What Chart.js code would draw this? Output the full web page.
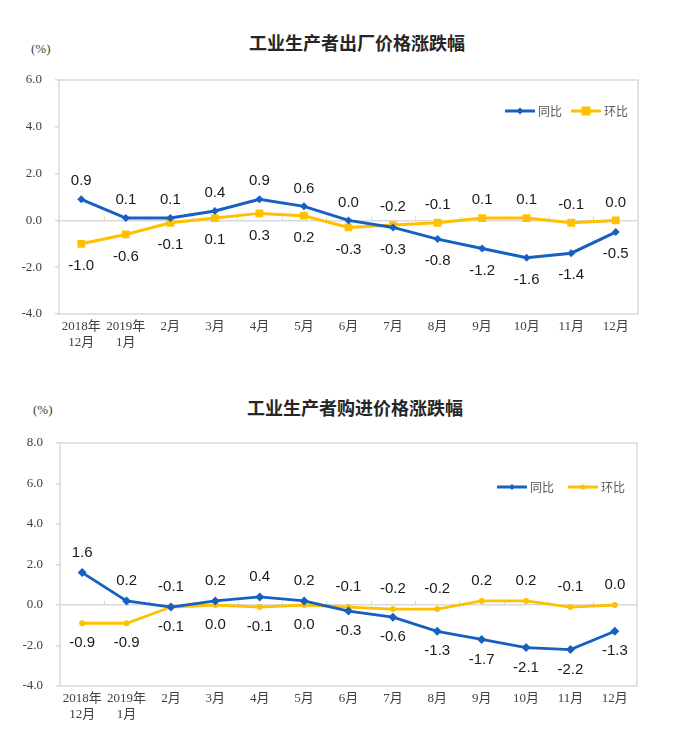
<!DOCTYPE html>
<html>
<head>
<meta charset="utf-8">
<script src="https://cdn.jsdelivr.net/npm/chart.js@4.4.1/dist/chart.umd.min.js"></script>
<style>
  html, body { margin: 0; padding: 0; background: #ffffff; }
  body { width: 692px; height: 743px; position: relative; overflow: hidden; }
  .title { position: absolute; font-family: "Noto Sans CJK SC", sans-serif; font-weight: bold; font-size: 18px; color: #262626; white-space: nowrap; transform: translate(-50%, -50%); }
  .unit { position: absolute; font-family: "Liberation Serif", "DejaVu Serif", serif; font-size: 13px; color: #404040; transform: translateY(-50%); }
  canvas { position: absolute; left: 0; }
</style>
</head>
<body>
<div class="title" style="left:357px; top:42px;">工业生产者出厂价格涨跌幅</div>
<div class="unit" style="left:31px; top:49px;">(%)</div>
<div class="title" style="left:355px; top:407px;">工业生产者购进价格涨跌幅</div>
<div class="unit" style="left:33px; top:410px;">(%)</div>
<canvas id="c1" width="692" height="365" style="top:0px;"></canvas>
<canvas id="c2" width="692" height="378" style="top:365px;"></canvas>
<script>
// ---------- DATA ----------
const categories = [["2018年", "12月"], ["2019年", "1月"], "2月", "3月", "4月", "5月", "6月", "7月", "8月", "9月", "10月", "11月", "12月"];
const seriesNames = ["同比", "环比"];

// 工业生产者出厂价格涨跌幅
const ppiYoY = [0.9, 0.1, 0.1, 0.4, 0.9, 0.6, 0.0, -0.3, -0.8, -1.2, -1.6, -1.4, -0.5];
const ppiMoM = [-1.0, -0.6, -0.1, 0.1, 0.3, 0.2, -0.3, -0.2, -0.1, 0.1, 0.1, -0.1, 0.0];
const ppiTicks = [-4, -2, 0, 2, 4, 6];

// 工业生产者购进价格涨跌幅
const ppirmYoY = [1.6, 0.2, -0.1, 0.2, 0.4, 0.2, -0.3, -0.6, -1.3, -1.7, -2.1, -2.2, -1.3];
const ppirmMoM = [-0.9, -0.9, -0.1, 0.0, -0.1, 0.0, -0.1, -0.2, -0.2, 0.2, 0.2, -0.1, 0.0];
const ppirmTicks = [-4, -2, 0, 2, 4, 6, 8];

// ---------- STYLE ----------
const BLUE = "#1560C0";
const YELLOW = "#FFC000";
const GRID = "#d9d9d9";
const tickFont = { family: "'Liberation Serif', 'Noto Sans CJK SC', serif", size: 13 };

const frameAndLabels = {
  id: "frameAndLabels",
  beforeDatasetsDraw(chart) {
    const { ctx, chartArea: a, scales } = chart;
    ctx.save();
    ctx.strokeStyle = GRID;
    ctx.lineWidth = 1.5;
    ctx.strokeRect(a.left, a.top, a.right - a.left, a.bottom - a.top);
    const y0 = scales.y.getPixelForValue(0);
    const n = chart.data.labels.length;
    const w = (a.right - a.left) / n;
    ctx.lineWidth = 1;
    for (let k = 1; k < n; k++) {
      const x = Math.round(a.left + k * w) + 0.5;
      ctx.beginPath();
      ctx.moveTo(x, y0 - 4);
      ctx.lineTo(x, y0);
      ctx.stroke();
    }
    ctx.restore();
  },
  afterDatasetsDraw(chart, args, opts) {
    const { ctx, chartArea: a } = chart;
    const d0 = chart.data.datasets[0].data;
    const d1 = chart.data.datasets[1].data;
    const m0 = chart.getDatasetMeta(0).data;
    const m1 = chart.getDatasetMeta(1).data;
    ctx.save();
    ctx.font = "15px 'Liberation Sans', Arial, sans-serif";
    ctx.fillStyle = "#1a1a1a";
    ctx.textAlign = "center";
    ctx.textBaseline = "middle";
    for (let i = 0; i < d0.length; i++) {
      const firstUp = d0[i] >= d1[i];
      const pts = [[m0[i], d0[i], firstUp], [m1[i], d1[i], !firstUp]];
      for (const [p, v, up] of pts) {
        const y = up ? p.y - opts.above : p.y + opts.below;
        ctx.fillText(v.toFixed(1), p.x, y);
      }
    }
    const ly = a.top + opts.legendDy;
    const items = opts.legend;
    chart.data.datasets.forEach((ds, j) => {
      const it = items[j];
      const x1 = a.right - it.from, x2 = a.right - it.to;
      ctx.strokeStyle = ds.borderColor;
      ctx.lineWidth = 3;
      ctx.beginPath();
      ctx.moveTo(x1, ly);
      ctx.lineTo(x2, ly);
      ctx.stroke();
      ctx.fillStyle = ds.borderColor;
      const cx = (x1 + x2) / 2;
      const r = it.marker;
      ctx.beginPath();
      if (ds.pointStyle === "rect") {
        ctx.rect(cx - r, ly - r, 2 * r, 2 * r);
      } else if (ds.pointStyle === "rectRot") {
        ctx.moveTo(cx, ly - r); ctx.lineTo(cx + r, ly); ctx.lineTo(cx, ly + r); ctx.lineTo(cx - r, ly);
        ctx.closePath();
      } else {
        ctx.arc(cx, ly, r, 0, Math.PI * 2);
      }
      ctx.fill();
      ctx.fillStyle = "#595959";
      ctx.font = "12px 'Noto Sans CJK SC', sans-serif";
      ctx.textAlign = "left";
      ctx.fillText(ds.label, x2 + 3, ly);
    });
    ctx.restore();
  }
};

function makeChart(id, yoy, mom, ticks, layout, style) {
  return new Chart(document.getElementById(id), {
    type: "line",
    data: {
      labels: categories,
      datasets: [
        { label: seriesNames[0], data: yoy, borderColor: BLUE, backgroundColor: BLUE, borderWidth: style.lw,
          pointStyle: "rectRot", pointRadius: style.r0, pointBorderWidth: 0, tension: 0 },
        { label: seriesNames[1], data: mom, borderColor: YELLOW, backgroundColor: YELLOW, borderWidth: style.lw,
          pointStyle: style.p1, pointRadius: style.r1, pointBorderWidth: 0, tension: 0 }
      ]
    },
    options: {
      responsive: false,
      animation: false,
      events: [],
      layout: { padding: { top: layout.top, right: layout.right, left: 0, bottom: 0 } },
      plugins: {
        legend: { display: false },
        tooltip: { enabled: false },
        title: { display: false },
        frameAndLabels: { above: style.above, below: style.below, legendDy: layout.legendDy, legend: layout.legend }
      },
      scales: {
        x: {
          offset: true,
          grid: { display: false, drawTicks: false },
          border: { display: false },
          ticks: { font: tickFont, color: "#404040", padding: 5, maxRotation: 0, autoSkip: false },
          afterFit(s) { s.height = layout.xh; }
        },
        y: {
          min: ticks[0], max: ticks[ticks.length - 1],
          afterBuildTicks(s) { s.ticks = ticks.map(v => ({ value: v })); },
          grid: {
            color: c => (c.tick && c.tick.value === 0 ? GRID : "rgba(0,0,0,0)"),
            lineWidth: 1.5,
            tickColor: GRID, tickLength: 4, drawTicks: true
          },
          border: { display: false },
          ticks: { font: tickFont, color: "#404040", padding: 13, callback: v => Number(v).toFixed(1) },
          afterFit(s) { s.width = layout.left; }
        }
      }
    },
    plugins: [frameAndLabels]
  });
}

makeChart("c1", ppiYoY, ppiMoM, ppiTicks,
  { top: 80, right: 54, left: 59, xh: 51, legendDy: 31,
    legend: [{ from: 133, to: 103, marker: 3.5 }, { from: 67, to: 37, marker: 4.5 }] },
  { lw: 3, r0: 4, p1: "rect", r1: 5.5, above: 18, below: 22 });

makeChart("c2", ppirmYoY, ppirmMoM, ppirmTicks,
  { top: 78, right: 55, left: 60, xh: 57, legendDy: 44,
    legend: [{ from: 140, to: 110, marker: 3 }, { from: 69, to: 39, marker: 2.5 }] },
  { lw: 2.8, r0: 4.5, p1: "circle", r1: 3, above: 20, below: 20 });
</script>
</body>
</html>
